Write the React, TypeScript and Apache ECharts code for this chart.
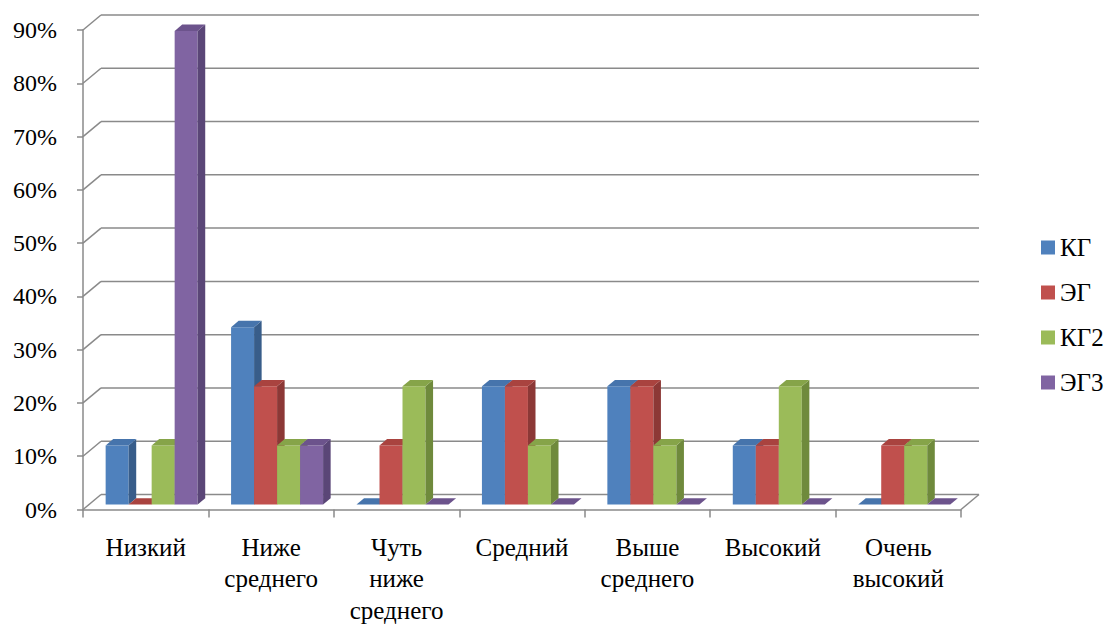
import React, { useEffect, useRef } from "react";
import * as echarts from "echarts";

const categories = [
  "Низкий",
  "Ниже\nсреднего",
  "Чуть\nниже\nсреднего",
  "Средний",
  "Выше\nсреднего",
  "Высокий",
  "Очень\nвысокий",
];
const seriesNames = ["КГ", "ЭГ", "КГ2", "ЭГ3"];
const kg = [11.1, 33.3, 0, 22.2, 22.2, 11.1, 0];
const eg = [0, 22.2, 11.1, 22.2, 22.2, 11.1, 11.1];
const kg2 = [11.1, 11.1, 22.2, 11.1, 11.1, 22.2, 11.1];
const eg3 = [88.9, 11.1, 0, 0, 0, 0, 0];
const yTicks = [0, 10, 20, 30, 40, 50, 60, 70, 80, 90];

const frontColors = ["#4f81bd", "#c0504d", "#9bbb59", "#8064a2"];
const topColors = ["#4674ac", "#a9433f", "#86a449", "#6c538c"];
const sideColors = ["#385d8a", "#8c3836", "#6f8a3c", "#5a4677"];

const DX = 18;
const DY = -15;
const F0 = 0.33;
const F1 = 0.75;
const GRID_COLOR = "#8a8a8a";
const FONT = "Liberation Serif";

export default function App() {
  const ref = useRef<HTMLDivElement>(null);
  useEffect(() => {
    if (!ref.current) return;
    const chart = echarts.init(ref.current, null, { renderer: "svg" });
    const allData = [kg, eg, kg2, eg3];

    const barSeries = allData.map((vals, k) => ({
      type: "custom",
      name: seriesNames[k],
      xAxisIndex: 0,
      yAxisIndex: 0,
      z: 5 + k,
      clip: false,
      itemStyle: { color: frontColors[k] },
      encode: { x: 0, y: 1 },
      data: vals.map((v, i) => [i, v]),
      renderItem: (params: any, api: any) => {
        const ci = api.value(0);
        const v = api.value(1);
        const c = api.coord([ci, v]);
        const b = api.coord([ci, 0]);
        const cw = api.size([1, 0])[0];
        const bw = cw * 0.1834;
        const x0 = c[0] - 2 * bw + F0 * DX + k * bw;
        const x1 = x0 + bw;
        const yTop = c[1] + F0 * DY;
        const yBot = b[1] + F0 * DY;
        const ddx = (F1 - F0) * DX;
        const ddy = (F1 - F0) * DY;
        const children: any[] = [];
        if (yBot - yTop > 0.5) {
          children.push({
            type: "rect",
            shape: { x: x0, y: yTop, width: bw, height: yBot - yTop },
            style: { fill: frontColors[k] },
          });
          children.push({
            type: "polygon",
            shape: {
              points: [
                [x1, yTop],
                [x1 + ddx, yTop + ddy],
                [x1 + ddx, yBot + ddy],
                [x1, yBot],
              ],
            },
            style: { fill: sideColors[k] },
          });
        }
        children.push({
          type: "polygon",
          shape: {
            points: [
              [x0, yTop],
              [x1, yTop],
              [x1 + ddx, yTop + ddy],
              [x0 + ddx, yTop + ddy],
            ],
          },
          style: { fill: topColors[k] },
        });
        return { type: "group", children };
      },
    }));

    const gridSeries = {
      type: "custom",
      name: "grid",
      xAxisIndex: 0,
      yAxisIndex: 0,
      z: 1,
      clip: false,
      silent: true,
      encode: { x: 0, y: 1 },
      data: yTicks.map((v) => [0, v]),
      renderItem: (params: any, api: any) => {
        const v = api.value(1);
        const p = api.coord([0, v]);
        const cs = params.coordSys;
        const left = cs.x;
        const right = cs.x + cs.width;
        const y = p[1];
        const children: any[] = [
          {
            type: "line",
            shape: { x1: left, y1: y, x2: left + DX, y2: y + DY },
            style: { stroke: GRID_COLOR, lineWidth: 1.5 },
          },
          {
            type: "line",
            shape: { x1: left + DX, y1: y + DY, x2: right + DX, y2: y + DY },
            style: { stroke: GRID_COLOR, lineWidth: 1.5 },
          },
        ];
        if (v === 0) {
          children.push({
            type: "line",
            shape: { x1: right, y1: y, x2: right + DX, y2: y + DY },
            style: { stroke: GRID_COLOR, lineWidth: 1.5 },
          });
        }
        return { type: "group", children };
      },
    };

    chart.setOption({
      animation: false,
      textStyle: { fontFamily: FONT },
      grid: { left: 83, top: 30, width: 878, height: 484 },
      legend: {
        orient: "vertical",
        left: 1036,
        top: 230,
        itemWidth: 14,
        itemHeight: 14,
        itemGap: 20,
        icon: "rect",
        data: seriesNames,
        textStyle: { fontSize: 25, color: "#000", fontFamily: FONT },
        selectedMode: false,
      },
      xAxis: {
        type: "category",
        data: categories,
        boundaryGap: true,
        axisLine: { show: true, lineStyle: { color: GRID_COLOR, width: 1.5 } },
        axisTick: { show: true, length: 8, alignWithLabel: false, lineStyle: { color: GRID_COLOR, width: 1.5 } },
        axisLabel: {
          interval: 0,
          margin: 22,
          fontSize: 25,
          lineHeight: 31.5,
          color: "#000",
          fontFamily: FONT,
        },
        splitLine: { show: false },
      },
      yAxis: {
        type: "value",
        min: 0,
        max: 90,
        interval: 10,
        axisLine: { show: true, lineStyle: { color: GRID_COLOR, width: 1.5 } },
        axisTick: { show: true, length: 6, lineStyle: { color: GRID_COLOR, width: 1.5 } },
        axisLabel: {
          formatter: "{value}%",
          fontSize: 24,
          margin: 26,
          color: "#000",
          fontFamily: FONT,
        },
        splitLine: { show: false },
      },
      series: [gridSeries, ...barSeries],
    });
    return () => chart.dispose();
  }, []);
  return (
    <div
      ref={ref}
      style={{ position: "fixed", left: 0, top: 0, width: 1109, height: 626, background: "#fff" }}
    />
  );
}
